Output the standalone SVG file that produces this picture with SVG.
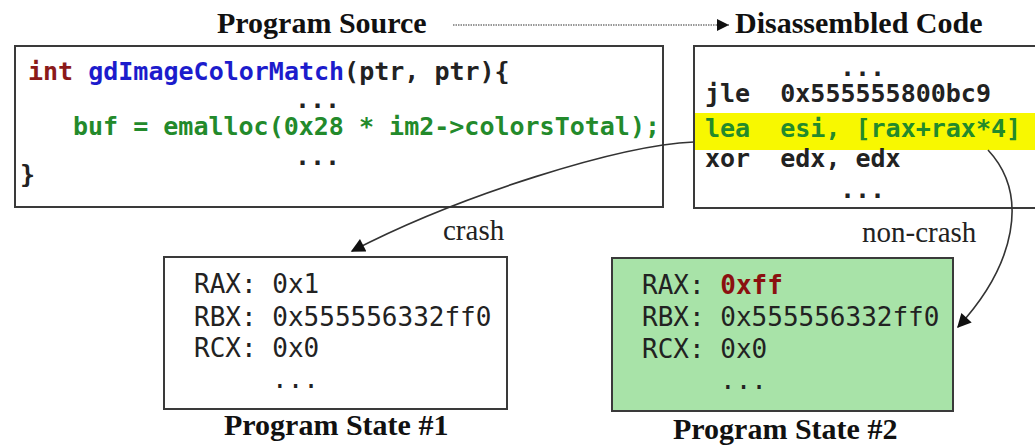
<svg xmlns="http://www.w3.org/2000/svg" width="1035" height="445" viewBox="0 0 1035 445">
<defs>
<style>
.title{font-family:"Liberation Serif","Times New Roman",serif;font-weight:bold;font-size:30px;fill:#111}
.lbl{font-family:"Liberation Serif","Times New Roman",serif;font-size:29px;fill:#222}
.code{font-family:"DejaVu Sans Mono",monospace;font-weight:bold;font-size:25px;fill:#222;white-space:pre}
.green{fill:#238a2b}
.reg{font-family:"DejaVu Sans Mono",monospace;font-size:26px;fill:#222;white-space:pre}
.box{fill:#fff;stroke:#3a3a3a;stroke-width:2}
.conn{fill:none;stroke:#333;stroke-width:1.6}
</style>
<marker id="ah" viewBox="0 0 10 10" refX="10" refY="5" markerWidth="18" markerHeight="12" markerUnits="userSpaceOnUse" orient="auto">
<path d="M0,0 L10,5 L0,10 z" fill="#111"/>
</marker>
<marker id="ah2" viewBox="0 0 10 10" refX="9" refY="5" markerWidth="20" markerHeight="14" markerUnits="userSpaceOnUse" orient="auto">
<path d="M0,0 L10,5 L0,10 z" fill="#111"/>
</marker>
</defs>
<rect width="1035" height="445" fill="#fff"/>

<g id="title-source"><text class="title" x="217" y="33">Program Source</text></g>
<g id="title-disasm"><text class="title" x="735" y="33">Disassembled Code</text></g>

<g id="source">
<rect class="box" x="15" y="46" width="648" height="161"/>
<text class="code" x="28" y="80"><tspan style="fill:#8b1a1a">int</tspan> <tspan style="fill:#1c1ccc">gdImageColorMatch</tspan>(ptr, ptr){</text>
<text class="code" x="295" y="108">...</text>
<text class="code green" x="73" y="135">buf = emalloc(0x28 * im2-&gt;colorsTotal);</text>
<text class="code" x="295" y="165">...</text>
<text class="code" x="20" y="183">}</text>
</g>

<g id="disasm">
<rect x="694" y="113" width="345" height="37" fill="#f8f800"/>
<rect x="694" y="46" width="360" height="162" fill="none" stroke="#3a3a3a" stroke-width="2"/>
<text class="code" x="840" y="76">...</text>
<text class="code" x="705" y="102">jle  0x555555800bc9</text>
<text class="code green" x="705" y="137">lea  esi, [rax+rax*4]</text>
<text class="code" x="705" y="167">xor  edx, edx</text>
<text class="code" x="840" y="198">...</text>
</g>

<g id="state1">
<rect class="box" x="164" y="257" width="343" height="152"/>
<text class="reg" x="194" y="293">RAX: 0x1</text>
<text class="reg" x="194" y="326">RBX: 0x555556332ff0</text>
<text class="reg" x="194" y="357">RCX: 0x0</text>
<text class="reg" x="272" y="388">...</text>
<text class="title" x="224" y="435">Program State #1</text>
</g>

<g id="state2">
<rect x="612" y="258" width="341" height="153" fill="#a8e3a8" stroke="#3a3a3a" stroke-width="2"/>
<text class="reg" x="642" y="294">RAX: <tspan style="fill:#8b1010;font-weight:bold">0xff</tspan></text>
<text class="reg" x="642" y="326">RBX: 0x555556332ff0</text>
<text class="reg" x="642" y="358">RCX: 0x0</text>
<text class="reg" x="720" y="389">...</text>
<text class="title" x="673" y="439">Program State #2</text>
</g>

<g id="connectors">
<line x1="453" y1="25" x2="729" y2="25" stroke="#777" stroke-width="1.5" stroke-dasharray="1.5,1" marker-end="url(#ah)"/>
<path class="conn" d="M694,142 C620,145 460,195 352,251" marker-end="url(#ah2)"/>
<path class="conn" d="M988,150 C1030,195 1015,265 958,327" marker-end="url(#ah2)"/>
<text class="lbl" x="443" y="240">crash</text>
<text class="lbl" x="862" y="242">non-crash</text>
</g>
</svg>
